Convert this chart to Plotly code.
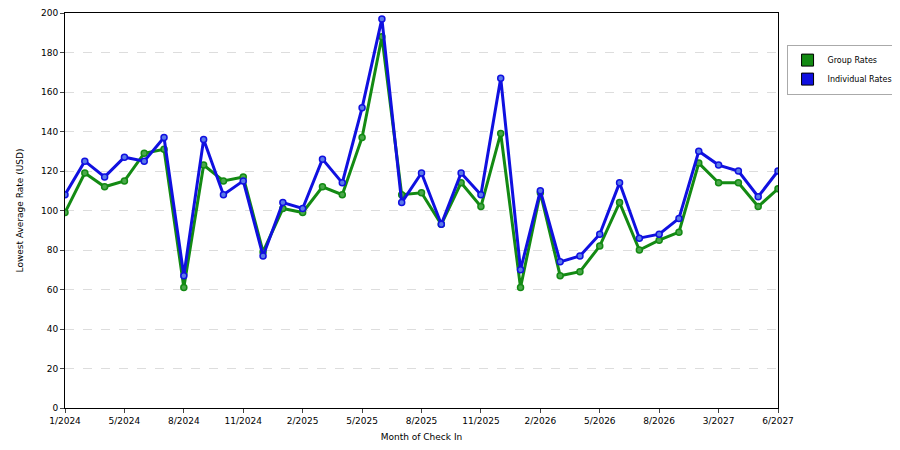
import plotly.graph_objects as go

months = ["1/2024","2/2024","3/2024","5/2024","6/2024","7/2024","8/2024","9/2024","10/2024","11/2024",
          "12/2024","1/2025","2/2025","3/2025","4/2025","5/2025","6/2025","7/2025","8/2025","9/2025",
          "10/2025","11/2025","12/2025","1/2026","2/2026","3/2026","4/2026","5/2026","6/2026","7/2026",
          "8/2026","9/2026","10/2026","3/2027","4/2027","5/2027","6/2027"]
tick_labels = ["1/2024","5/2024","8/2024","11/2024","2/2025","5/2025","8/2025","11/2025",
               "2/2026","5/2026","8/2026","3/2027","6/2027"]
group_rates = [99,119,112,115,129,131,61,123,115,117,79,101,99,112,108,137,188,108,109,93,
               114,102,139,61,109,67,69,82,104,80,85,89,124,114,114,102,111]
individual_rates = [108,125,117,127,125,137,67,136,108,115,77,104,101,126,114,152,197,104,119,93,
                    119,108,167,70,110,74,77,88,114,86,88,96,130,123,120,107,120]

GREEN, BLUE = "#138a13", "#1010e0"
fig = go.Figure()
for name, vals, col, fill in [("Group Rates", group_rates, GREEN, "#4aa84a"),
                              ("Individual Rates", individual_rates, BLUE, "#5a7ae8")]:
    fig.add_trace(go.Scatter(x=months, y=vals, name=name, mode="lines+markers", showlegend=False,
                             line=dict(color=col, width=3),
                             marker=dict(size=6, color=fill, line=dict(color=col, width=1.5))))
    fig.add_trace(go.Bar(x=[months[0]], y=[None], name=name, marker=dict(color=col, line=dict(color="#000", width=1))))

fig.update_layout(
    width=900, height=450, margin=dict(l=57, r=130, t=5, b=50),
    plot_bgcolor="white", paper_bgcolor="white",
    font=dict(family="DejaVu Sans", size=9, color="#000"),
    legend=dict(x=1.012, y=0.92, xanchor="left", yanchor="top", bordercolor="#aaa", borderwidth=1,
                font=dict(size=8), tracegroupgap=2),
    xaxis=dict(type="category", tickmode="array", tickvals=tick_labels, ticktext=tick_labels,
               showgrid=False, showline=True, linecolor="#000", mirror=True, ticks="outside",
               ticklen=4, title=dict(text="Month of Check In", font=dict(size=9), standoff=8),
               range=[0, 36], automargin=False),
    yaxis=dict(range=[0, 200], dtick=20, showgrid=True, gridcolor="#ddd", griddash="dash",
               showline=True, linecolor="#000", mirror=True, ticks="outside", ticklen=4,
               title=dict(text="Lowest Average Rate (USD)", font=dict(size=9)), zeroline=False,
               automargin=False),
)
fig.write_html("out.html")
